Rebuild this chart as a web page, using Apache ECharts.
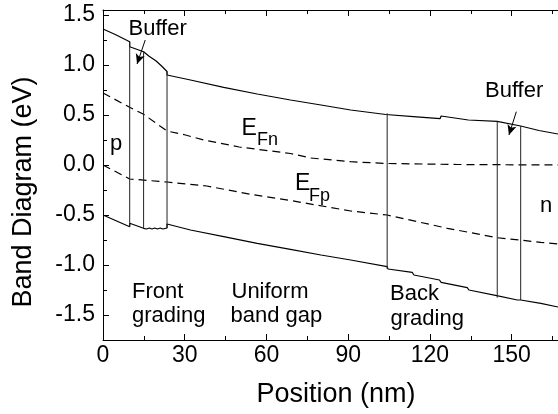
<!DOCTYPE html>
<html>
<head>
<meta charset="utf-8">
<script src="https://cdn.jsdelivr.net/npm/echarts@6/dist/echarts.min.js"></script>
<style>
  html, body { margin: 0; padding: 0; background: #fff; }
  #chart { width: 558px; height: 414px; }
</style>
</head>
<body>
<div id="chart"></div>
<script>
// ---- Data ----
// Conduction band edge (solid, upper)
const ecPos = [0, 4.5, 9.8, 9.8, 14.9, 16.8, 17.3, 19.5, 20.0, 21.5, 22.0, 23.5, 23.5, 32.1, 44.3, 56.6, 68.8, 80, 90.9, 103.8, 104.3, 113.9, 114.3, 123.7, 124.1, 134.1, 134.5, 144.7, 153.3, 160, 167];
const ecVal = [1.36, 1.305, 1.233, 1.183, 1.133, 1.09, 1.075, 1.04, 1.02, 0.99, 0.97, 0.935, 0.90, 0.85, 0.777, 0.71, 0.65, 0.60, 0.55, 0.505, 0.517, 0.483, 0.503, 0.463, 0.49, 0.45, 0.467, 0.437, 0.39, 0.345, 0.31];
// Valence band edge (solid, lower)
const evPos = [0, 9.8, 9.8, 14.9, 16, 17, 18, 19, 20, 21, 22, 23.5, 23.5, 32.1, 44.3, 56.6, 68.8, 80, 90.9, 104.3, 104.6, 113.5, 114.1, 123.5, 124.1, 133.7, 134.3, 144.5, 145, 152.1, 153.3, 160.7, 167];
const evVal = [-0.50, -0.617, -0.583, -0.633, -0.64, -0.63, -0.64, -0.63, -0.64, -0.63, -0.64, -0.63, -0.59, -0.65, -0.717, -0.783, -0.843, -0.90, -0.95, -1.017, -1.04, -1.073, -1.10, -1.15, -1.173, -1.227, -1.25, -1.307, -1.327, -1.35, -1.35, -1.383, -1.42];
// Electron quasi-Fermi level (dashed)
const efnPos = [0, 9.8, 14.9, 23.5, 30.3, 36.9, 50, 68.8, 76.2, 90.9, 104.3, 130, 167];
const efnVal = [0.72, 0.577, 0.507, 0.34, 0.30, 0.25, 0.18, 0.115, 0.07, 0.033, 0.015, 0.005, 0.0];
// Hole quasi-Fermi level (dashed)
const efpPos = [0, 9.8, 23.5, 38.1, 54.1, 68.8, 90.9, 104.3, 126.4, 144.7, 160.7, 167];
const efpVal = [0.0, -0.14, -0.17, -0.21, -0.293, -0.355, -0.46, -0.50, -0.633, -0.727, -0.773, -0.79];
// Layer interfaces (vertical solid lines between band edges)
const interfacePos = [9.8, 14.9, 23.5, 104.3, 144.7, 153.3];
const interfaceTop = [1.233, 1.133, 0.935, 0.517, 0.437, 0.39];
const interfaceBottom = [-0.617, -0.633, -0.63, -1.04, -1.327, -1.35];
// Annotation arrows ("Buffer"): [startX, startY, endX, endY]
const arrowStarts = [[15.5, 1.25], [151.7, 0.533]];
const arrowEnds = [[12.5, 1.01], [149.0, 0.30]];
// Axis ticks
const xTickValues = [0, 30, 60, 90, 120, 150];
const xMinorTickValues = [15, 45, 75, 105, 135, 165];
const yTickValues = [-1.5, -1.0, -0.5, 0.0, 0.5, 1.0, 1.5];
const yMinorTickValues = [-1.75, -1.25, -0.75, -0.25, 0.25, 0.75, 1.25];
const xMin = 0, xMax = 167, yMin = -1.75, yMax = 1.55;

// ---- Chart ----
const FONT = '"Liberation Sans", Arial, Helvetica, sans-serif';
const zip = (a, b) => a.map((v, i) => [v, b[i]]);

const chart = echarts.init(document.getElementById('chart'), null, { renderer: 'canvas' });

const lineBase = { type: 'line', showSymbol: false, symbol: 'none', silent: true, xAxisIndex: 0, yAxisIndex: 0 };

const series = [
  Object.assign({}, lineBase, { name: 'Ec', data: zip(ecPos, ecVal), lineStyle: { color: '#000', width: 1.2 },
    markLine: {
      silent: true, symbol: ['none', 'arrow'], symbolSize: [7, 10],
      label: { show: false },
      lineStyle: { color: '#000', width: 1, type: 'solid' },
      data: arrowStarts.map((s, i) => [{ coord: s }, { coord: arrowEnds[i] }])
    } }),
  Object.assign({}, lineBase, { name: 'Ev', data: zip(evPos, evVal), lineStyle: { color: '#000', width: 1.2 } }),
  Object.assign({}, lineBase, { name: 'EFn', data: zip(efnPos, efnVal), lineStyle: { color: '#000', width: 1.2, type: [8, 5] } }),
  Object.assign({}, lineBase, { name: 'EFp', data: zip(efpPos, efpVal), lineStyle: { color: '#000', width: 1.2, type: [8, 5] } })
];
interfacePos.forEach((p, i) => {
  series.push(Object.assign({}, lineBase, {
    name: 'interface' + i,
    data: [[p, interfaceTop[i]], [p, interfaceBottom[i]]],
    lineStyle: { color: '#222', width: 1 }
  }));
});

function txt(text, x, y, size, align, extra) {
  return Object.assign({
    type: 'text', x: x, y: y, silent: true,
    style: { text: text, fontSize: size, fontFamily: FONT, fill: '#000',
      align: align || 'left', verticalAlign: 'middle',
      textAlign: align || 'left', textVerticalAlign: 'middle' }
  }, extra || {});
}

const axisCommon = { min: xMin, max: xMax, splitLine: { show: false } };

const option = {
  animation: false,
  backgroundColor: '#fff',
  grid: { left: 103, right: 0, top: 10, bottom: 74, containLabel: false },
  xAxis: [
    Object.assign({}, axisCommon, {
      type: 'value', position: 'bottom',
      axisLine: { show: true, onZero: false, lineStyle: { color: '#000', width: 1 } },
      axisTick: { show: true, inside: true, length: 6, customValues: xTickValues, lineStyle: { color: '#000' } },
      axisLabel: { show: true, customValues: xTickValues, margin: 4, fontSize: 23, fontFamily: FONT, color: '#000' }
    }),
    Object.assign({}, axisCommon, {
      type: 'value', position: 'bottom',
      axisLine: { show: false, onZero: false },
      axisTick: { show: true, inside: true, length: 4, customValues: xMinorTickValues, lineStyle: { color: '#000' } },
      axisLabel: { show: false }
    }),
    Object.assign({}, axisCommon, {
      type: 'value', position: 'top',
      axisLine: { show: true, onZero: false, lineStyle: { color: '#000', width: 1 } },
      axisTick: { show: true, inside: true, length: 6, customValues: xTickValues, lineStyle: { color: '#000' } },
      axisLabel: { show: false }
    }),
    Object.assign({}, axisCommon, {
      type: 'value', position: 'top',
      axisLine: { show: false, onZero: false },
      axisTick: { show: true, inside: true, length: 4, customValues: xMinorTickValues, lineStyle: { color: '#000' } },
      axisLabel: { show: false }
    })
  ],
  yAxis: [
    {
      type: 'value', position: 'left', min: yMin, max: yMax, splitLine: { show: false },
      axisLine: { show: true, onZero: false, lineStyle: { color: '#000', width: 1 } },
      axisTick: { show: true, inside: true, length: 6, customValues: yTickValues, lineStyle: { color: '#000' } },
      axisLabel: { show: true, customValues: yTickValues, margin: 8, fontSize: 23, fontFamily: FONT, color: '#000',
        formatter: v => Number(v).toFixed(1) }
    },
    {
      type: 'value', position: 'left', min: yMin, max: yMax, splitLine: { show: false },
      axisLine: { show: false, onZero: false },
      axisTick: { show: true, inside: true, length: 4, customValues: yMinorTickValues, lineStyle: { color: '#000' } },
      axisLabel: { show: false }
    }
  ],
  series: series,
  graphic: [
    txt('Band Diagram (eV)', 24, 192, 27, 'center', { rotation: Math.PI / 2 }),
    txt('Position (nm)', 336, 395, 27, 'center'),
    txt('Buffer', 128.5, 29, 22),
    txt('Buffer', 485, 91, 22),
    txt('p', 110, 144, 22),
    txt('n', 540, 206, 22),
    txt('E', 241.5, 129, 23),
    txt('Fn', 257, 140, 18),
    txt('E', 295, 184, 23),
    txt('Fp', 309, 196, 18),
    txt('Front', 132, 292, 22),
    txt('grading', 132, 315.5, 22),
    txt('Uniform', 231.5, 292, 22),
    txt('band gap', 230.5, 315.5, 22),
    txt('Back', 390, 294, 22),
    txt('grading', 390.5, 319, 22)
  ]
};

chart.setOption(option);
</script>
</body>
</html>
